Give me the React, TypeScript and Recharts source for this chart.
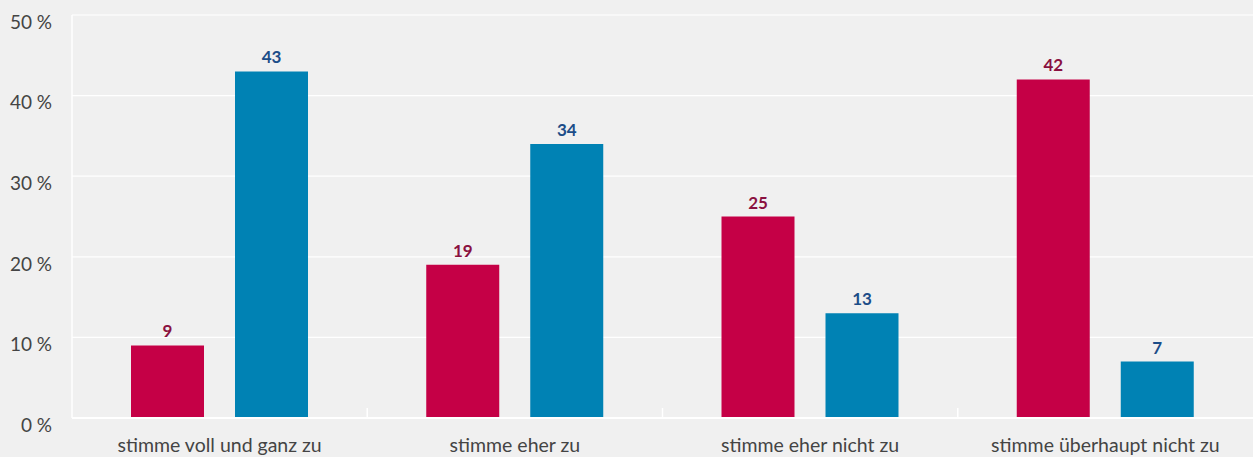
import { Bar, BarChart, CartesianGrid, LabelList, XAxis, YAxis } from "recharts";

const categories = [
  "stimme voll und ganz zu",
  "stimme eher zu",
  "stimme eher nicht zu",
  "stimme überhaupt nicht zu",
];
const redValues = [9, 19, 25, 42];
const blueValues = [43, 34, 13, 7];
const yTicks = [0, 10, 20, 30, 40, 50];

const data = categories.map((name, i) => ({
  name,
  red: redValues[i],
  blue: blueValues[i],
}));

const FONT = "Lato, 'Open Sans', sans-serif";

function YTick({ x, y, payload }: any) {
  return (
    <text
      x={x}
      y={y + 7}
      dy="0.355em"
      textAnchor="end"
      fill="#444"
      fontSize={19}
      fontFamily={FONT}
    >
      {`${payload.value}\u202F%`}
    </text>
  );
}

function XTick({ x, y, payload, index, width, visibleTicksCount }: any) {
  const band = width / visibleTicksCount;
  const axisY = y - 20;
  return (
    <g>
      {index < visibleTicksCount - 1 && (
        <line
          x1={x + band / 2}
          x2={x + band / 2}
          y1={axisY}
          y2={axisY - 10}
          stroke="#fff"
          strokeWidth={1.5}
        />
      )}
      <text
        x={x}
        y={y}
        dy="0.71em"
        textAnchor="middle"
        fill="#444"
        fontSize={19.5}
        fontFamily={FONT}
      >
        {payload.value}
      </text>
    </g>
  );
}

export default function App() {
  return (
    <div
      style={{
        position: "absolute",
        left: 0,
        top: 0,
        width: 1253,
        height: 457,
        background: "#f0f0f0",
      }}
    >
      <BarChart
        width={1253}
        height={457}
        data={data}
        margin={{ top: 15, right: 0, bottom: 0, left: 0 }}
        barSize={73}
        barGap={31}
      >
        <CartesianGrid vertical={false} stroke="#fff" strokeWidth={1.2} />
        <XAxis
          dataKey="name"
          height={39}
          axisLine={{ stroke: "#fff", strokeWidth: 2 }}
          tickLine={false}
          tickSize={6}
          tickMargin={14}
          tick={<XTick />}
          interval={0}
        />
        <YAxis
          width={72}
          domain={[0, 50]}
          ticks={yTicks}
          axisLine={{ stroke: "#fff", strokeWidth: 1.5 }}
          tickLine={false}
          tickSize={6}
          tickMargin={14}
          tick={<YTick />}
        />
        <Bar dataKey="red" fill="#c50046" isAnimationActive={false}>
          <LabelList
            dataKey="red"
            position="top"
            offset={8}
            fill="#8a1040"
            fontSize={17}
            fontWeight="bold"
            fontFamily={FONT}
          />
        </Bar>
        <Bar dataKey="blue" fill="#0082b4" isAnimationActive={false}>
          <LabelList
            dataKey="blue"
            position="top"
            offset={8}
            fill="#1c4d88"
            fontSize={17}
            fontWeight="bold"
            fontFamily={FONT}
          />
        </Bar>
      </BarChart>
    </div>
  );
}
